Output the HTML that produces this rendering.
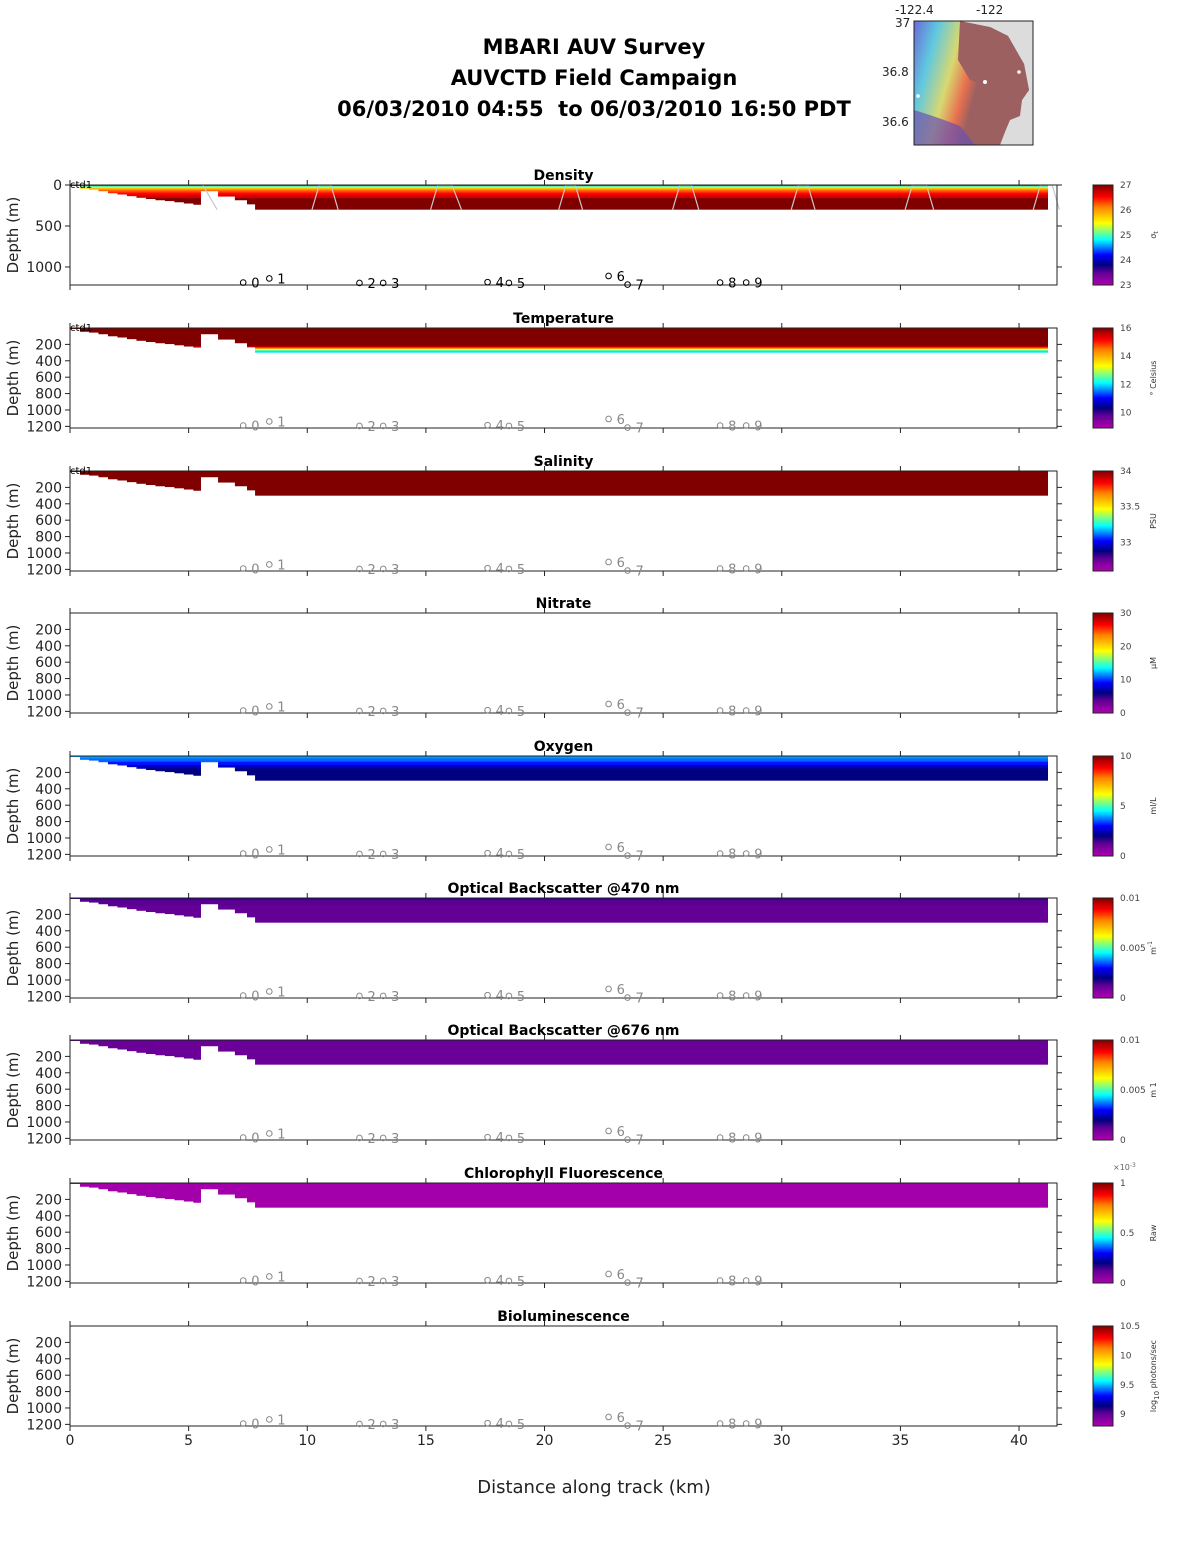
<!DOCTYPE html>
<html><head><meta charset="utf-8"><style>
body{margin:0;background:#fff}
svg{display:block;font-family:"DejaVu Sans","Liberation Sans",sans-serif}
</style></head><body>
<svg id="fig" width="1188" height="1548" viewBox="0 0 1188 1548" xmlns="http://www.w3.org/2000/svg">
<rect width="1188" height="1548" fill="#fff"/>
<g font-weight="bold" font-size="21" text-anchor="middle" fill="#000">
<text x="594" y="54">MBARI AUV Survey</text>
<text x="594" y="85">AUVCTD Field Campaign</text>
<text x="594" y="116" xml:space="preserve">06/03/2010 04:55  to 06/03/2010 16:50 PDT</text>
</g>
<g>
<defs>
<linearGradient id="mapg" x1="0" y1="0" x2="1" y2="0.3">
<stop offset="0" stop-color="#6a6ad8"/><stop offset="0.2" stop-color="#60c8e0"/><stop offset="0.4" stop-color="#d8d870"/><stop offset="0.55" stop-color="#e87050"/><stop offset="0.65" stop-color="#9c6060"/></linearGradient>
</defs>
<rect x="914" y="21" width="119" height="124" fill="#dcdcdc"/>
<path d="M914 21 H958 L978 30 L990 27 L1008 36 L1024 64 L1029 90 L1022 100 L1020 116 L1010 120 L1005 132 L1000 145 H914 Z" fill="url(#mapg)"/>
<path d="M960 21 L990 27 L1008 36 L1024 64 L1029 90 L1022 100 L1018 116 L1010 118 L1000 112 L990 100 L985 85 L970 80 L958 60 Z" fill="#9c6060"/>
<path d="M914 110 Q940 118 960 126 L975 145 H914 Z" fill="#6a50b0" opacity="0.7"/>
<circle cx="1019" cy="72" r="1.8" fill="#fff"/><circle cx="985" cy="82" r="2" fill="#fff"/><circle cx="918" cy="96" r="1.8" fill="#fff"/>
<rect x="914" y="21" width="119" height="124" fill="none" stroke="#222" stroke-width="1"/>
<g font-size="12" fill="#222"><text x="895" y="14">-122.4</text><text x="976" y="14">-122</text>
<text x="895" y="27">37</text><text x="882" y="76">36.8</text><text x="882" y="126">36.6</text></g>
</g>
<g id="panels"></g>
<text x="594" y="1493" font-size="18" text-anchor="middle" fill="#222">Distance along track (km)</text>
</svg>
<script>
// ---- data ----
const profKm = [0.42,0.8,1.2,1.6,2.0,2.4,2.8,3.2,3.6,4.0,4.4,4.8,5.2,5.5,6.24,6.95,7.46,7.8,41.2];
const profDepth = [40,50,70,95,110,130,150,165,180,190,205,220,235,70,135,180,230,295];
const stationKm = [7.3,8.4,12.2,13.2,17.6,18.5,22.7,23.5,27.4,28.5];
const stationDepth = [1190,1140,1195,1195,1185,1195,1110,1215,1190,1190];
const stationLabels = ["0","1","2","3","4","5","6","7","8","9"];
const xTicks = [0,5,10,15,20,25,30,35,40];
const trackKm = [10.2,10.5,11.0,11.3,15.2,15.5,16.1,16.5,20.6,20.9,21.3,21.6,25.4,25.7,26.2,26.5,30.4,30.7,31.1,31.4,35.2,35.5,36.1,36.4,40.6,40.9,41.4,41.7];
const densDepths=[0,4,8,14,22,32,45,60,80,100,125,160,300], densVals=[23.2,24.0,24.6,25.0,25.4,25.7,26.0,26.2,26.4,26.55,26.7,27.0];
const tempDepths=[0,220,232,244,256,268,280,300], tempVals=[16.5,15.6,14.9,14.2,13.3,12.5,12.0];
const salDepths=[0,300], salVals=[34.2];
const oxyDepths=[0,30,70,110,150,300], oxyVals=[3.9,3.6,3.1,2.5,2.0];
const bb470Depths=[0,20,80,300], bb470Vals=[0.0016,0.0013,0.0012];
const bb676Depths=[0,10,300], bb676Vals=[0.0013,0.0011];
const chlDepths=[0,300], chlVals=[0.00002];
const panels=[
 {title:"Density",top:185,vmin:23,vmax:27,cbTicks:[23,24,25,26,27],cbLabels:["23","24","25","26","27"],unit:"σ<tspan font-size='6' dy='2'>t</tspan>",d:densDepths,v:densVals,yt:[0,500,1000],ctd:true,dark:true},
 {title:"Temperature",top:328,vmin:8.9,vmax:16,cbTicks:[10,12,14,16],cbLabels:["10","12","14","16"],unit:"° Celsius",d:tempDepths,v:tempVals,ctd:true},
 {title:"Salinity",top:471,vmin:32.6,vmax:34,cbTicks:[33,33.5,34],cbLabels:["33","33.5","34"],unit:"PSU",d:salDepths,v:salVals,ctd:true},
 {title:"Nitrate",top:613,vmin:0,vmax:30,cbTicks:[0,10,20,30],cbLabels:["0","10","20","30"],unit:"μM",d:null},
 {title:"Oxygen",top:756,vmin:0,vmax:10,cbTicks:[0,5,10],cbLabels:["0","5","10"],unit:"ml/L",d:oxyDepths,v:oxyVals},
 {title:"Optical Backscatter @470 nm",top:898,vmin:0,vmax:0.01,cbTicks:[0,0.005,0.01],cbLabels:["0","0.005","0.01"],unit:"m<tspan font-size='6' dy='-4'>-1</tspan>",d:bb470Depths,v:bb470Vals},
 {title:"Optical Backscatter @676 nm",top:1040,vmin:0,vmax:0.01,cbTicks:[0,0.005,0.01],cbLabels:["0","0.005","0.01"],unit:"m 1",d:bb676Depths,v:bb676Vals},
 {title:"Chlorophyll Fluorescence",top:1183,vmin:0,vmax:0.001,cbTicks:[0,0.0005,0.001],cbLabels:["0","0.5","1"],unit:"Raw",d:chlDepths,v:chlVals,exp:true},
 {title:"Bioluminescence",top:1326,vmin:8.8,vmax:10.5,cbTicks:[9,9.5,10,10.5],cbLabels:["9","9.5","10","10.5"],unit:"log<tspan font-size='7' dy='3'>10</tspan><tspan dy='-3'> photons/sec</tspan>",d:null}
];
// ---- drawing ----
const NS="http://www.w3.org/2000/svg";
const L=70,R=1057,H=100,DMAX=1220,KMAX=41.6;
const sx=km=>L+km*(R-L)/KMAX;
const stops=[[0,[176,0,176]],[0.12,[100,0,150]],[0.2,[0,0,128]],[0.3,[0,0,255]],[0.45,[0,255,255]],[0.62,[255,255,0]],[0.78,[255,128,0]],[0.88,[255,0,0]],[1,[128,0,0]]];
function cmap(t){t=Math.max(0,Math.min(1,t));for(let i=1;i<stops.length;i++){if(t<=stops[i][0]){const a=stops[i-1],b=stops[i],f=(t-a[0])/(b[0]-a[0]);const c=a[1].map((x,k)=>Math.round(x+(b[1][k]-x)*f));return `rgb(${c})`;}}return "rgb(128,0,0)";}
function el(tag,attrs,parent,txt){const e=document.createElementNS(NS,tag);for(const k in attrs)e.setAttribute(k,attrs[k]);if(txt!==undefined)e.innerHTML=txt;parent.appendChild(e);return e;}
const root=document.getElementById("panels");
const defs=el("defs",{},root);
const cg=el("linearGradient",{id:"cbg",x1:0,y1:1,x2:0,y2:0},defs);
stops.forEach(s=>el("stop",{offset:s[0],"stop-color":`rgb(${s[1]})`},cg));
panels.forEach((p,pi)=>{
 const top=p.top,bot=top+H;
 const sy=d=>top+d*H/DMAX;
 const g=el("g",{},root);
 
 
 if(p.d){
  const dg=el("g",{},g);
  
  
  for(let i=0;i<profDepth.length;i++){
   const x0=sx(profKm[i]),x1=sx(profKm[i+1]);
   for(let j=0;j<p.v.length;j++){
    const d0=p.d[j],d1=Math.min(p.d[j+1],profDepth[i]);
    if(d1<=d0)continue;
    const r=el("rect",{x:x0,y:sy(d0),width:x1-x0+0.5,height:sy(d1)-sy(d0)+0.5,fill:cmap((p.v[j]-p.vmin)/(p.vmax-p.vmin))},dg);
    
    
   }
  }
  el("line",{x1:sx(0),y1:sy(3),x2:sx(0.42),y2:sy(3),stroke:cmap((p.v[0]-p.vmin)/(p.vmax-p.vmin)),"stroke-width":1.5},dg);
 }
 if(pi===0){
  const tg=el("g",{stroke:"#c8c8c8","stroke-width":1.2,fill:"none"},g);
  
  
  for(let i=0;i+3<trackKm.length;i+=4){
   el("polyline",{points:`${sx(trackKm[i])},${sy(300)} ${sx(trackKm[i+1])},${sy(2)} ${sx(trackKm[i+2])},${sy(2)} ${sx(trackKm[i+3])},${sy(300)}`},tg);
  }
  el("polyline",{points:`${sx(5.6)},${sy(2)} ${sx(6.2)},${sy(300)}`},tg);
 }
 const ax=el("rect",{x:L,y:top,width:R-L,height:H,fill:"none",stroke:"#222","stroke-width":1},g);
 
 
 xTicks.forEach(t=>{const x=sx(t);el("line",{x1:x,y1:top,x2:x,y2:top-5,stroke:"#222"},g);el("line",{x1:x,y1:bot,x2:x,y2:bot+5,stroke:"#222"},g);});
 const yt=p.yt||[200,400,600,800,1000,1200];
 yt.forEach(t=>{const y=sy(t);el("line",{x1:L,y1:y,x2:L-5,y2:y,stroke:"#222"},g);el("line",{x1:R,y1:y,x2:R+5,y2:y,stroke:"#222"},g);
  const tl=el("text",{x:L-8,y:y+5,"font-size":14,"text-anchor":"end",fill:"#222"},g,String(t));
  
  });
 const yl=el("text",{x:18,y:top+H/2,"font-size":15,"text-anchor":"middle",fill:"#222",transform:`rotate(-90 18 ${top+H/2})`},g,"Depth (m)");
 
 
 const tt=el("text",{x:(L+R)/2,y:top-5,"font-size":14,"font-weight":"bold","text-anchor":"middle",fill:"#000"},g,p.title);
 
 
 if(p.ctd){const c=el("text",{x:L,y:top+3,"font-size":10,fill:"#000"},g,"ctd1");
  
  }
 const col=p.dark?"#000":"#888";
 stationKm.forEach((k,i)=>{const x=sx(k),y=sy(stationDepth[i]);
  const sg=el("g",{},g);
  
  
  el("circle",{cx:x,cy:y,r:2.8,fill:"none",stroke:col,"stroke-width":1},sg);
  el("text",{x:x+8,y:y+5,"font-size":13,fill:col},sg,stationLabels[i]);});
 const cb=el("g",{},g);
 
 
 el("rect",{x:1093,y:top,width:20,height:H,fill:"url(#cbg)",stroke:"#222","stroke-width":1},cb);
 p.cbTicks.forEach((t,i)=>{const y=bot-(t-p.vmin)/(p.vmax-p.vmin)*H;
  el("text",{x:1120,y:y+3,"font-size":9,fill:"#444"},cb,p.cbLabels[i]);});
 const ux=1152,uy=top+H/2;
 el("text",{x:ux+4,y:uy,"font-size":8,"text-anchor":"middle",fill:"#333",transform:`rotate(-90 ${ux+4} ${uy})`},cb,p.unit);
 if(p.exp)el("text",{x:1113,y:top-13,"font-size":8,fill:"#666"},cb,"×10<tspan font-size='6' dy='-3'>-3</tspan>");
 if(pi===panels.length-1){
  xTicks.forEach(t=>{const xl=el("text",{x:sx(t),y:bot+19,"font-size":14,"text-anchor":"middle",fill:"#222"},g,String(t));
   
   });
 }
});
</script>
</body></html>
